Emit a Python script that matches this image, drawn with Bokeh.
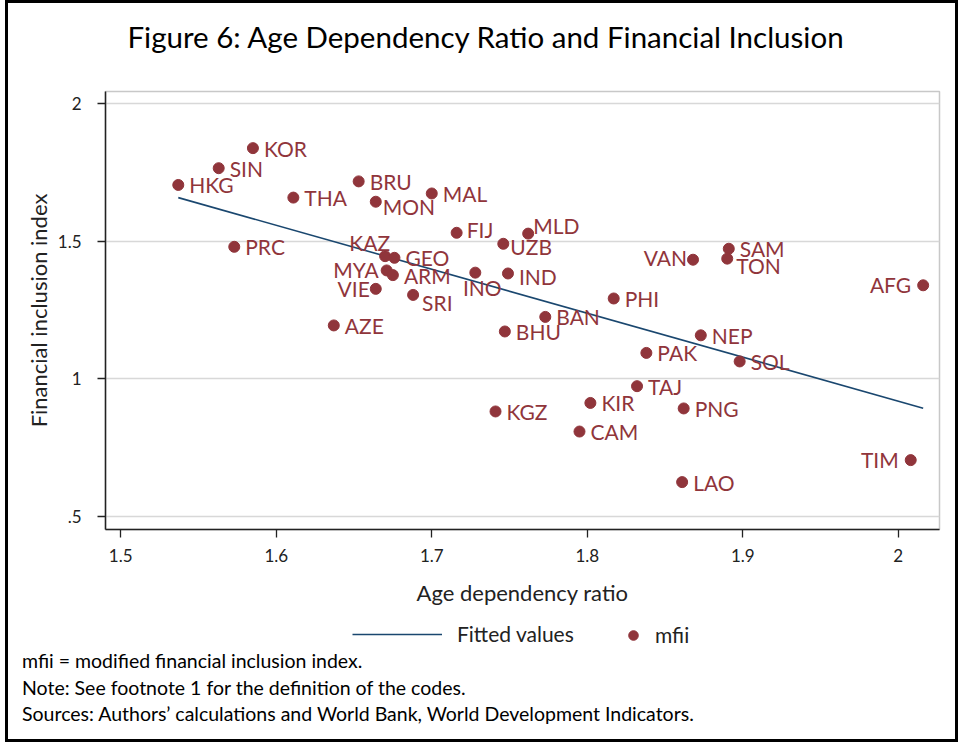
from bokeh.plotting import figure
from bokeh.layouts import column
from bokeh.models import (ColumnDataSource, Legend, LegendItem, FixedTicker, Range1d,
                          Label, Div)
from bokeh.core.properties import value
from bokeh.embed import file_html
from bokeh.resources import INLINE

# ---------------- data ----------------
codes = ["HKG", "SIN", "KOR", "THA", "PRC", "BRU", "MON", "MAL", "FIJ", "MLD",
         "UZB", "KAZ", "GEO", "MYA", "ARM", "VIE", "SRI", "INO", "IND", "AZE",
         "BHU", "BAN", "PHI", "VAN", "SAM", "TON", "AFG", "NEP", "PAK", "SOL",
         "TAJ", "KIR", "PNG", "KGZ", "CAM", "LAO", "TIM"]
age_dependency = [1.537, 1.563, 1.585, 1.611, 1.573, 1.653, 1.664, 1.700, 1.716, 1.762,
                  1.746, 1.670, 1.676, 1.671, 1.675, 1.664, 1.688, 1.728, 1.749, 1.637,
                  1.747, 1.773, 1.817, 1.868, 1.891, 1.890, 2.016, 1.873, 1.838, 1.898,
                  1.832, 1.802, 1.862, 1.741, 1.795, 1.861, 2.008]
mfii = [1.705, 1.766, 1.839, 1.659, 1.480, 1.718, 1.644, 1.674, 1.531, 1.528,
        1.491, 1.446, 1.440, 1.394, 1.377, 1.327, 1.305, 1.386, 1.383, 1.194,
        1.172, 1.225, 1.292, 1.433, 1.473, 1.437, 1.340, 1.158, 1.094, 1.063,
        0.973, 0.912, 0.892, 0.881, 0.808, 0.624, 0.704]
fitted_x = [1.537, 2.016]
fitted_y = [1.659, 0.893]

x_ticks = [1.5, 1.6, 1.7, 1.8, 1.9, 2.0]
x_tick_labels = ["1.5", "1.6", "1.7", "1.8", "1.9", "2"]
y_ticks = [0.5, 1.0, 1.5, 2.0]
y_tick_labels = [".5", "1", "1.5", "2"]

title_text = "Figure 6: Age Dependency Ratio and Financial Inclusion"
x_title = "Age dependency ratio"
y_title = "Financial inclusion index"
legend_labels = ["Fitted values", "mfii"]
notes = ["mfii = modified financial inclusion index.",
         "Note: See footnote 1 for the definition of the codes.",
         "Sources: Authors\u2019 calculations and World Bank, World Development Indicators."]

# ---------------- styles ----------------
FONT = "Lato"
MAROON = "#90353b"
NAVY = "#1a476f"
INK = "#222222"
default_label = ("left", 11, 0)
label_style = {
    "MON": ("left", 7, 5), "FIJ": ("left", 10, -3), "KAZ": ("right", 5, -14),
    "MYA": ("right", -8, -1), "VIE": ("right", -6, 0), "INO": ("center", 7, 15),
    "SRI": ("left", 9, 8), "MLD": ("left", 5, -8), "UZB": ("left", 7, 3),
    "IND": ("left", 11, 3), "VAN": ("right", -6, -2), "TON": ("left", 9, 7),
    "AFG": ("right", -12, -1), "TIM": ("right", -12, -1),
}
aligns = [label_style.get(c, default_label)[0] for c in codes]
dxs = [label_style.get(c, default_label)[1] for c in codes]
dys = [label_style.get(c, default_label)[2] for c in codes]

src = ColumnDataSource(dict(x=age_dependency, y=mfii, code=codes,
                            align=aligns, dx=dxs, dy=dys))

W = 958
H_TITLE = 62
H_MAIN = 552
H_LEGEND = 34
H_NOTES = 742 - H_TITLE - H_MAIN - H_LEGEND
FRAME_L, FRAME_R = 105, 19

LEFT = "inset 5px 0 0 #ffffff, inset 8px 0 0 #000000"
RIGHT = "inset -3px 0 0 #000000"
TOP = "inset 0 3px 0 #000000"
BOTTOM = "inset 0 -3px 0 #000000"


def strip(height):
    f = figure(width=W, height=height, output_backend="svg", toolbar_location=None,
               x_range=Range1d(0, 1), y_range=Range1d(0, 1),
               x_axis_type=None, y_axis_type=None,
               min_border_left=FRAME_L, min_border_right=FRAME_R,
               min_border_top=0, min_border_bottom=0)
    f.outline_line_color = None
    f.background_fill_color = None
    f.border_fill_color = None
    f.xgrid.visible = False
    f.ygrid.visible = False
    return f


# ---------------- title strip ----------------
t = strip(H_TITLE)
t.styles = {"box-shadow": ", ".join([LEFT, RIGHT, TOP])}
t.add_layout(Label(x=22, y=26, x_units="screen", y_units="screen", text=title_text,
                   text_font=FONT, text_font_size="29.5px", text_align="left",
                   text_baseline="middle", text_color="black"))

# ---------------- main chart ----------------
p = figure(width=W, height=H_MAIN, output_backend="svg", toolbar_location=None,
           x_range=Range1d(1.4902, 2.0265), y_range=Range1d(0.4516, 2.045),
           min_border_left=FRAME_L, min_border_right=FRAME_R,
           min_border_top=91 - H_TITLE, min_border_bottom=H_MAIN - (529 - H_TITLE))
p.styles = {"box-shadow": ", ".join([LEFT, RIGHT])}
p.background_fill_color = "white"
p.border_fill_color = None
p.outline_line_color = "#c8c8c8"
p.outline_line_width = 1.5

p.xgrid.visible = False
p.ygrid.ticker = FixedTicker(ticks=y_ticks)
p.ygrid.grid_line_color = "#d8d8d8"
p.ygrid.grid_line_width = 1.3

p.xaxis.ticker = FixedTicker(ticks=x_ticks)
p.xaxis.major_label_overrides = dict(zip(x_ticks, x_tick_labels))
p.yaxis.ticker = FixedTicker(ticks=y_ticks)
p.yaxis.major_label_overrides = dict(zip(y_ticks, y_tick_labels))
for ax in (p.xaxis[0], p.yaxis[0]):
    ax.axis_line_color = INK
    ax.axis_line_width = 1.5
    ax.major_tick_line_color = INK
    ax.major_tick_line_width = 1.3
    ax.major_tick_in = 0
    ax.major_tick_out = 8
    ax.minor_tick_out = 0
    ax.minor_tick_in = 0
    ax.major_label_text_font = FONT
    ax.major_label_text_font_size = "17px"
    ax.major_label_text_color = INK
    ax.axis_label_text_font = FONT
    ax.axis_label_text_font_size = "22px"
    ax.axis_label_text_font_style = "normal"
    ax.axis_label_text_color = INK
p.xaxis.axis_label = x_title
p.yaxis.axis_label = y_title
p.xaxis.major_label_standoff = 11
p.xaxis.axis_label_standoff = 14
p.yaxis.major_label_standoff = 16
p.yaxis.major_label_orientation = "horizontal"
p.yaxis.axis_label_standoff = 3

p.line(fitted_x, fitted_y, line_color=NAVY, line_width=1.6)
p.scatter("x", "y", source=src, size=11, fill_color=MAROON,
          line_color=MAROON, marker="circle")
p.text("x", "y", text="code", source=src, text_font=value(FONT),
       text_font_size="21px", text_color=MAROON, text_align="align",
       text_baseline="middle", x_offset="dx", y_offset="dy")

# ---------------- legend strip ----------------
q = strip(H_LEGEND)
q.styles = {"box-shadow": ", ".join([LEFT, RIGHT])}
key_line = q.line([-2, -1], [-2, -2], line_color=NAVY, line_width=1.6)
key_dot = q.scatter([-2], [-2], size=11, fill_color=MAROON, line_color=MAROON,
                    marker="circle")
legend_common = dict(orientation="horizontal", label_height=20,
                     padding=0, margin=0, border_line_color=None,
                     background_fill_alpha=0, label_text_font=FONT,
                     label_text_font_size="21px", label_text_color=INK)
q.add_layout(Legend(items=[LegendItem(label=legend_labels[0], renderers=[key_line])],
                    location=(352 - FRAME_L, 2), glyph_width=90, glyph_height=20,
                    label_standoff=15, **legend_common))
q.add_layout(Legend(items=[LegendItem(label=legend_labels[1], renderers=[key_dot])],
                    location=(633 - 12 - FRAME_L, 1), glyph_width=24, glyph_height=24,
                    label_standoff=10, **legend_common))

# ---------------- notes ----------------
notes_html = ("<div style=\"padding-left:22px;font-family:Lato;font-size:19.5px;"
              "line-height:26.5px;color:#000;white-space:nowrap;\">"
              + "<br>".join(notes) + "</div>")
d = Div(text=notes_html, width=W, height=H_NOTES, margin=(0, 0, 0, 0),
        styles={"box-shadow": ", ".join([LEFT, RIGHT, BOTTOM])})

layout = column(t, p, q, d, spacing=0)

open("out.html", "w").write(file_html(layout, INLINE))
